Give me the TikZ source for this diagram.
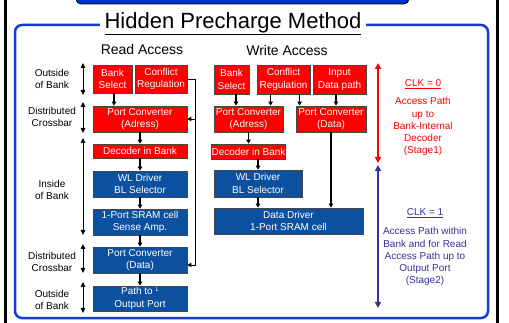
\documentclass[tikz,border=0pt]{standalone}
\usepackage{fontspec}
\setmainfont{Liberation Sans}
\usetikzlibrary{arrows.meta}
\definecolor{boxred}{RGB}{255,0,0}
\definecolor{boxblue}{RGB}{12,80,160}
\definecolor{frameblue}{RGB}{20,60,215}
\definecolor{barblue}{RGB}{0,50,200}
\definecolor{clkblue}{RGB}{50,50,150}
\definecolor{edgegray}{RGB}{70,70,70}
\begin{document}
\begin{tikzpicture}[x=1pt,y=-1pt,
  basebox/.style={draw=edgegray, line width=0.8pt, text=white, inner sep=0pt,
    align=center, font=\fontsize{10}{12.5}\selectfont},
  redbox/.style={basebox, fill=boxred},
  bluebox/.style={basebox, fill=boxblue},
  arr/.style={-{Triangle[width=4.5pt,length=4pt]}, line width=1.3pt},
  fbarr/.style={-{Triangle[width=4.5pt,length=4pt]}, line width=0.9pt},
  dbl/.style={{Triangle[width=4.5pt,length=5pt]}-{Triangle[width=4.5pt,length=5pt]}, line width=0.8pt},
  sidelabel/.style={align=center, font=\fontsize{10}{12.5}\selectfont},
  colhead/.style={font=\fontsize{14}{16}\selectfont},
]
\useasboundingbox (0,0) rectangle (509,323);

% outer frame
\draw[line width=3pt] (5,0) -- (5,323);
\draw[line width=3pt] (497,0) -- (497,323);
\draw[fill=barblue, draw=black, line width=0.8pt, rounded corners=5pt] (76,-10) rectangle (409,4);
\draw[frameblue, line width=2.5pt, rounded corners=7pt] (15,25) rectangle (488,318);

% title
\node[fill=white, inner xsep=5pt, inner ysep=1pt, font=\fontsize{22}{24}\selectfont] (title) at (233,24) {\underline{Hidden Precharge Method}};
\node[colhead] (readhd) at (142,49) {Read Access};
\node[colhead] (writehd) at (287,50) {Write Access};

% read access column
\node[redbox, minimum width=39pt, minimum height=28pt] (rbank) at (112.5,79) {Bank\\Select};
\node[redbox, minimum width=52pt, minimum height=28pt] (rconf) at (161,79) {Conflict\\Regulation};
\node[redbox, minimum width=94pt, minimum height=26pt] (rpca) at (140,119) {Port Converter\\(Adress)};
\node[redbox, minimum width=94pt, minimum height=14pt] (rdec) at (140,151) {Decoder in Bank};
\node[bluebox, minimum width=94pt, minimum height=26pt] (rwl) at (140,184) {WL Driver\\BL Selector};
\node[bluebox, minimum width=94pt, minimum height=26pt] (rsram) at (140,222) {1-Port SRAM cell\\Sense Amp.};
\node[bluebox, minimum width=94pt, minimum height=26pt] (rpcd) at (140,260) {Port Converter\\(Data)};
\node[bluebox, minimum width=94pt, minimum height=25pt] (rpath) at (140,298.5) {Path to \raisebox{3pt}{\fontsize{6}{6}\selectfont L}\\Output Port};

\draw[arr] ([xshift=1.5pt]rbank.south) -- ([xshift=1.5pt]rbank.south |- rpca.north);
\draw[arr] (rpca) -- (rdec);
\draw[arr] (rdec) -- (rwl);
\draw[arr] (rwl) -- (rsram);
\draw[arr] (rsram) -- (rpcd);
\draw[arr] (rpcd) -- (rpath);

% conflict regulation feedback
\draw[fbarr] (rconf.east) -- ++(8,0) coordinate (fbtop) |- ([yshift=-5pt]rpcd.east);
\draw[fbarr] (fbtop |- rpca.east) -- (rpca.east);

% write access column
\node[redbox, minimum width=35pt, minimum height=29pt] (wbank) at (231.5,79.5) {Bank\\Select};
\node[redbox, minimum width=53pt, minimum height=29pt] (wconf) at (283.5,79.5) {Conflict\\Regulation};
\node[redbox, minimum width=53pt, minimum height=29pt] (winp) at (339.5,79.5) {Input\\Data path};
\node[redbox, minimum width=69pt, minimum height=26pt] (wpca) at (248.5,119) {Port Converter\\(Adress)};
\node[redbox, minimum width=70pt, minimum height=26pt] (wpcd) at (331,119) {Port Converter\\(Data)};
\node[redbox, minimum width=69pt, minimum height=15pt] (wdec) at (248.5,151.5) {Decoder in Bank};
\node[bluebox, minimum width=88pt, minimum height=27pt] (wwl) at (258,183.5) {WL Driver\\BL Selector};
\node[bluebox, minimum width=149pt, minimum height=26pt] (wdd) at (288.5,221) {Data Driver\\1-Port SRAM cell};

\draw[arr] ([xshift=4.5pt]wbank.south) -- ([xshift=4.5pt]wbank.south |- wpca.north);
\draw[arr] ([xshift=14pt]wconf.south west) -- ([xshift=14pt]wconf.south west |- wpca.north);
\draw[arr] ([xshift=43pt]wconf.south west) -- ([xshift=43pt]wconf.south west |- wpcd.north);
\draw[arr] ([xshift=-3.5pt]winp.south) -- ([xshift=-3.5pt]winp.south |- wpcd.north);
\draw[arr] (wpca) -- (wdec);
\draw[arr] (wwl.north |- wdec.south) -- (wwl.north);
\draw[arr] (wwl) -- (wwl.south |- wdd.north);
\draw[arr] (wpcd) -- (wpcd.south |- wdd.north);

% hierarchy labels on the left
\node[sidelabel] (l1) at (52,79) {Outside\\of Bank};
\node[sidelabel] (l2) at (52,117) {Distributed\\Crossbar};
\node[sidelabel] (l3) at (52,190) {Inside\\of Bank};
\node[sidelabel] (l4) at (52,262) {Distributed\\Crossbar};
\node[sidelabel] (l5) at (52,300) {Outside\\of Bank};
\coordinate (a1t) at (83,63);  \coordinate (a1b) at (83,95);
\coordinate (a2t) at (83,102); \coordinate (a2b) at (83,133);
\coordinate (a3t) at (83,138); \coordinate (a3b) at (83,235);
\coordinate (a4t) at (83,244); \coordinate (a4b) at (83,273);
\coordinate (a5t) at (83,282); \coordinate (a5b) at (83,313);
\draw[dbl] (a1t) -- (a1b);
\draw[dbl] (a2t) -- (a2b);
\draw[dbl] (a3t) -- (a3b);
\draw[dbl] (a4t) -- (a4b);
\draw[dbl] (a5t) -- (a5b);

% clock phases on the right
\coordinate (s1t) at (378,63);  \coordinate (s1b) at (378,163);
\coordinate (s2t) at (378,165); \coordinate (s2b) at (378,308);
\draw[red, line width=1.6pt, {Triangle[width=6pt,length=6pt]}-{Triangle[width=6pt,length=6pt]}] (s1t) -- (s1b);
\draw[clkblue, line width=1.4pt, {Triangle[width=6pt,length=6pt]}-{Triangle[width=6pt,length=6pt]}] (s2t) -- (s2b);

\node[text=red, font=\fontsize{10}{12}\selectfont] (c0) at (423,84) {\underline{CLK = 0}};
\node[text=red, align=center, font=\fontsize{10}{12.3}\selectfont, anchor=north] (c0txt) at (423,94) {Access Path\\up to\\Bank-Internal\\Decoder\\(Stage1)};
\node[text=clkblue, font=\fontsize{10}{12}\selectfont] (c1) at (425,213) {\underline{CLK = 1}};
\node[text=clkblue, align=center, font=\fontsize{10}{12.3}\selectfont, anchor=north] (c1txt) at (425,224) {Access Path within\\Bank and for Read\\Access Path up to\\Output Port\\(Stage2)};
\end{tikzpicture}
\end{document}
